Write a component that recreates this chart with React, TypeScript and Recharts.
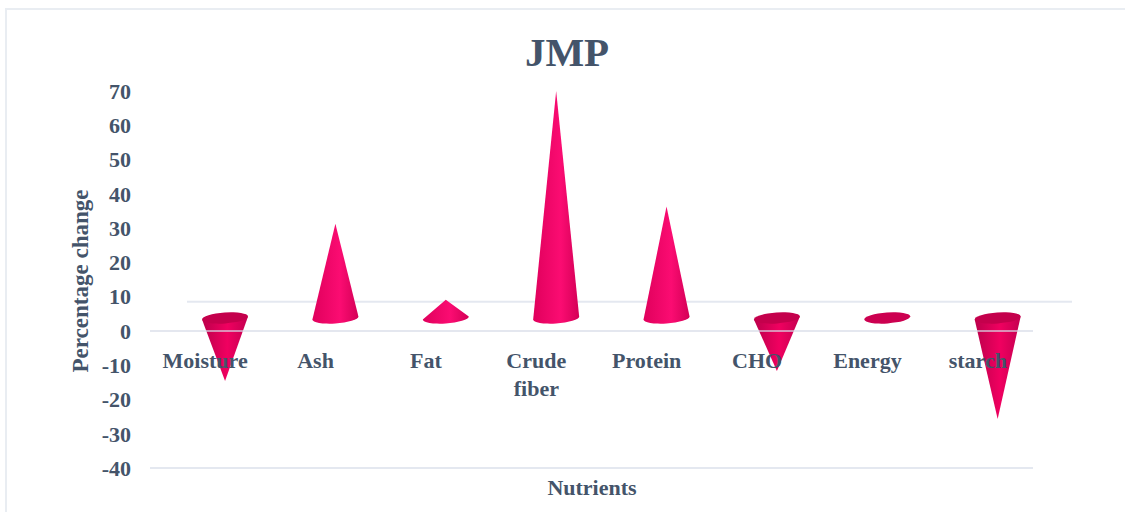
import React from 'react';
import { BarChart, Bar, XAxis, YAxis, ReferenceLine } from 'recharts';

const nutrients = ['Moisture', 'Ash', 'Fat', 'Crude fiber', 'Protein', 'CHO', 'Energy', 'starch'];
const percentChange = [-18.4, 27.5, 5.3, 66.2, 32.5, -15.5, 0, -29.5];
const yTicks = [-40, -30, -20, -10, 0, 10, 20, 30, 40, 50, 60, 70];

const chartData = nutrients.map((name, i) => ({ name, change: percentChange[i] }));

const TEXT = '#44546a';
const GRID = '#e4e8f0';
const FONT = '"Liberation Serif", "Times New Roman", serif';

// depth shift of the pseudo 3D cones relative to the axes
const DEPTH_X = 20;
const DEPTH_Y = -13;
const BASE_RX = 23;
const BASE_RY = 5.5;

const Cone = (props: any) => {
  const { x, y, width, height, change } = props;
  const top = Math.min(y, y + height);
  const bottom = Math.max(y, y + height);
  const cx = x + width / 2 + DEPTH_X;
  const down = change < 0;
  const baseY = (down ? top : bottom) + DEPTH_Y;
  const apexY = (down ? bottom : top) + DEPTH_Y;
  const tilt = `rotate(-4 ${cx} ${baseY})`;

  if (change === 0) {
    return <ellipse cx={cx} cy={baseY} rx={BASE_RX} ry={BASE_RY} fill="#cc0050" transform={tilt} />;
  }
  if (down) {
    return (
      <g>
        <path d={`M${cx - BASE_RX} ${baseY + 1.5}L${cx} ${apexY}L${cx + BASE_RX} ${baseY - 1.5}Z`} fill="url(#coneDown)" />
        <ellipse cx={cx} cy={baseY} rx={BASE_RX} ry={BASE_RY} fill="#c4004c" transform={tilt} />
      </g>
    );
  }
  return (
    <path
      d={`M${cx - BASE_RX} ${baseY + 1.5}L${cx} ${apexY}L${cx + BASE_RX} ${baseY - 1.5}A${BASE_RX} ${BASE_RY} -4 0 1 ${cx - BASE_RX} ${baseY + 1.5}Z`}
      fill="url(#coneUp)"
    />
  );
};

const CategoryTick = (props: any) => {
  const { x, payload } = props;
  const words = payload.value === 'Crude fiber' ? ['Crude', 'fiber'] : [payload.value];
  return (
    <text x={x} y={368} textAnchor="middle" fontFamily={FONT} fontWeight="bold" fontSize={22} fill={TEXT}>
      {words.map((w: string, i: number) => (
        <tspan key={w} x={x} dy={i === 0 ? 0 : 28}>
          {w}
        </tspan>
      ))}
    </text>
  );
};

// the back wall line sits up and to the right of the plot
const BackLine = (props: any) => (
  <line x1={props.x1 + 37} x2={props.x2 + 39} y1={props.y1} y2={props.y2} stroke={GRID} strokeWidth={2} />
);

export default function App() {
  return (
    <div style={{ position: 'absolute', left: 0, top: 0, width: 1125, height: 512, background: '#fff', overflow: 'hidden' }}>
      <div
        style={{
          position: 'absolute',
          left: 5,
          top: 8,
          width: 1200,
          height: 600,
          border: '2px solid #e9edf2',
          boxSizing: 'border-box',
        }}
      />
      <div style={{ position: 'absolute', left: 0, top: 0 }}>
        <BarChart
          width={1125}
          height={512}
          data={chartData}
          margin={{ top: 91, right: 92, bottom: 43, left: 100 }}
          style={{ fontFamily: FONT }}
        >
          <defs>
            <linearGradient id="coneUp" x1="0" y1="0" x2="1" y2="0">
              <stop offset="0" stopColor="#e0005c" />
              <stop offset="0.6" stopColor="#fb0c72" />
              <stop offset="1" stopColor="#d40056" />
            </linearGradient>
            <linearGradient id="coneDown" x1="0" y1="0" x2="1" y2="0">
              <stop offset="0" stopColor="#bc004b" />
              <stop offset="0.55" stopColor="#f00060" />
              <stop offset="1" stopColor="#c40050" />
            </linearGradient>
          </defs>
          <text x={567} y={66} textAnchor="middle" fontFamily={FONT} fontWeight="bold" fontSize={41} fill={TEXT}>
            JMP
          </text>
          <text
            x={88}
            y={281}
            textAnchor="middle"
            transform="rotate(-90 88 281)"
            fontFamily={FONT}
            fontWeight="bold"
            fontSize={23}
            fill={TEXT}
          >
            Percentage change
          </text>
          <text x={592} y={495} textAnchor="middle" fontFamily={FONT} fontWeight="bold" fontSize={22} fill={TEXT}>
            Nutrients
          </text>
          <XAxis dataKey="name" height={1} axisLine={false} tickLine={false} tick={<CategoryTick />} interval={0} />
          <YAxis
            type="number"
            domain={[-40, 70]}
            ticks={yTicks}
            width={50}
            axisLine={false}
            tickLine={false}
            interval={0}
            tickMargin={13}
            tick={{ fontFamily: FONT, fontWeight: 'bold', fontSize: 22, fill: TEXT }}
          />
          <ReferenceLine y={8.5} shape={<BackLine />} zIndex={50} />
          <ReferenceLine y={-40} stroke={GRID} strokeWidth={2} />
          <Bar dataKey="change" isAnimationActive={false} shape={(p: any) => <Cone {...p} change={p.change} />} />
          <ReferenceLine y={0} stroke="#d5dae6" strokeOpacity={0.65} strokeWidth={2} />
        </BarChart>
      </div>
    </div>
  );
}
